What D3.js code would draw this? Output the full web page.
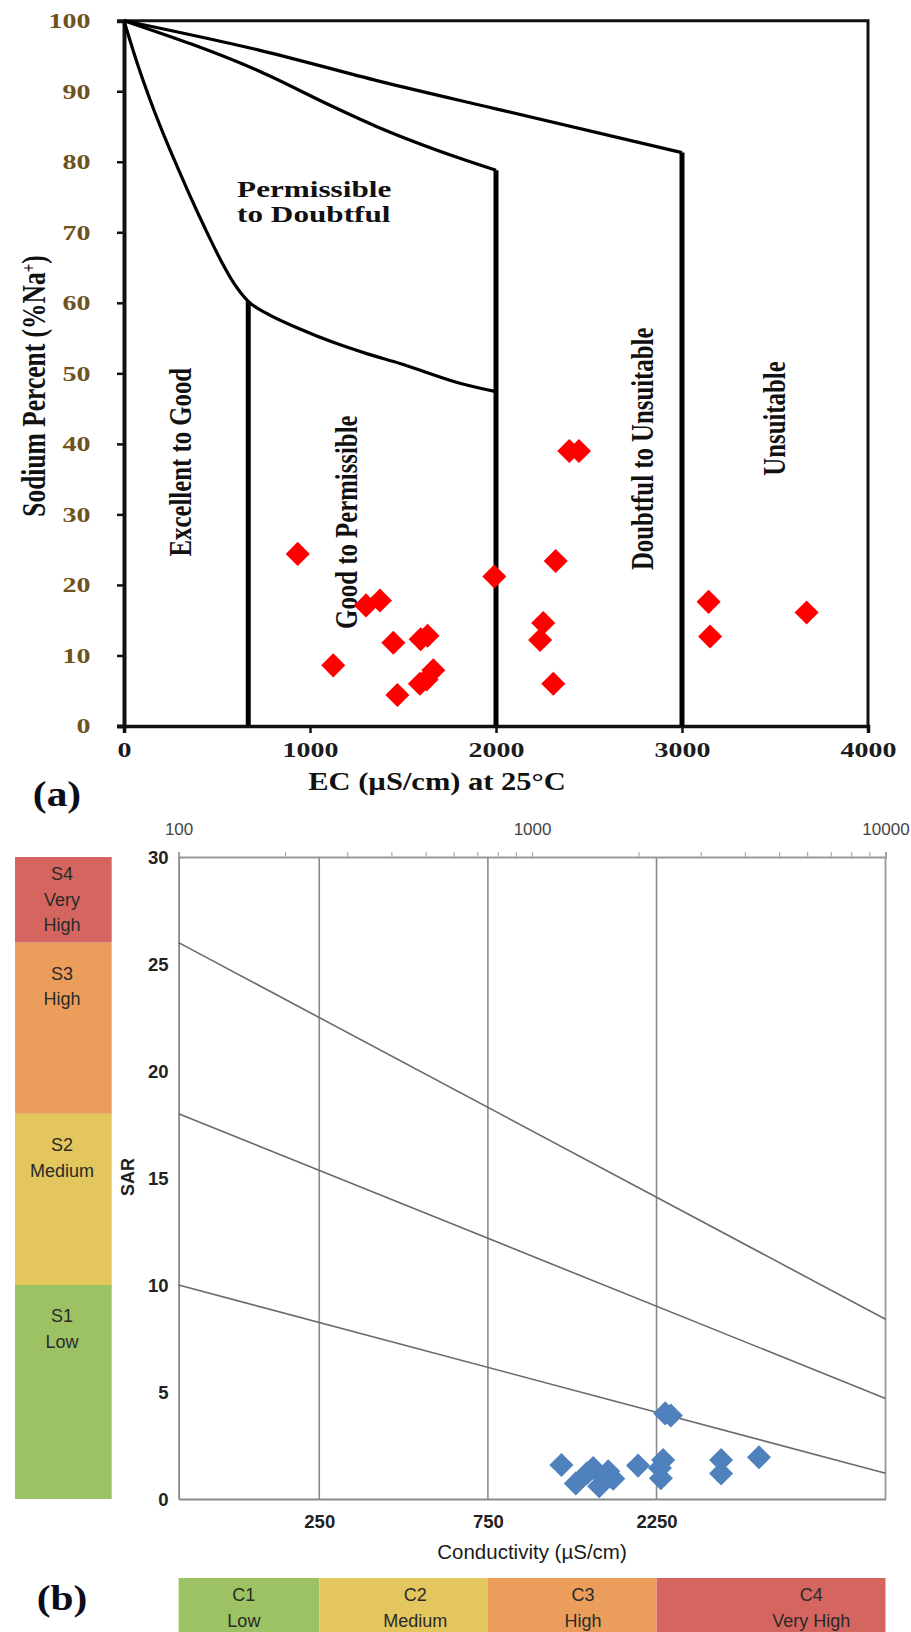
<!DOCTYPE html>
<html><head><meta charset="utf-8">
<script src="https://cdn.jsdelivr.net/npm/d3@7"></script>
<style>body{margin:0;background:#fff}svg{display:block}</style>
</head><body>
<script>
// ===== (a) Wilcox diagram data =====
const ecTicks = [0, 1000, 2000, 3000, 4000];
const naTicks = [0, 10, 20, 30, 40, 50, 60, 70, 80, 90, 100];
const sampleEC = [934, 1125, 1301, 1376, 1448, 1470, 1595, 1632, 1591, 1627, 1663, 1991, 2394, 2446, 2321, 2254, 2237, 2308, 3143, 3151, 3670];
const sampleNa = [24.4, 8.6, 17.1, 17.8, 11.8, 4.4, 12.3, 12.8, 6.0, 6.6, 7.9, 21.2, 39.0, 39.0, 23.4, 14.6, 12.2, 6.0, 17.6, 12.7, 16.1];
// boundary curves
const curve1EC = [0, 77, 140, 211, 283, 346, 435, 525, 588, 668, 767, 946, 1125, 1305, 1484, 1806, 2000];
const curve1Na = [100, 93.5, 88.8, 84.0, 79.5, 75.7, 70.6, 65.8, 62.9, 60.2, 58.5, 56.3, 54.4, 52.8, 51.4, 48.6, 47.4];
const curve2EC = [0, 731, 1125, 1376, 1806, 2000];
const curve2Na = [100, 92.8, 87.8, 84.8, 80.5, 78.8];
const curve3EC = [0, 731, 1376, 2000, 3000];
const curve3Na = [100, 95.8, 91.4, 87.5, 81.3];
const boundaryEC = [668, 2000, 3000];
const boundaryTop = [60.2, 78.8, 81.3];
const zoneNames = ["Excellent to Good", "Good to Permissible", "Doubtful to Unsuitable", "Unsuitable"];
const zoneEC = [301, 1194, 2785, 3493];
const zoneNa = [37.4, 28.9, 39.3, 43.6];

// ===== (b) USSL / Richards diagram data =====
const condTopTicks = [100, 200, 300, 400, 500, 600, 700, 800, 900, 1000, 2000, 3000, 4000, 5000, 6000, 7000, 8000, 9000, 10000];
const condTopLabels = [100, 1000, 10000];
const condClassBreaks = [100, 250, 750, 2250, 10000];
const sarTicks = [0, 5, 10, 15, 20, 25, 30];
const sarLineLeft = [10, 18, 26];     // SAR at 100 µS/cm
const sarLineRight = [1.2, 4.7, 8.4]; // SAR at 10000 µS/cm
const sarBands = [0, 10, 18, 26, 30];
const sNames = [["S1", "Low"], ["S2", "Medium"], ["S3", "High"], ["S4", "Very", "High"]];
const cNames = [["C1", "Low"], ["C2", "Medium"], ["C3", "High"], ["C4", "Very High"]];
const cLabelAt = [153, 467, 1393, 6170];
const sampleCond = [2380, 2470, 1211, 1330, 1430, 1489, 1549, 1600, 1643, 1671, 1697, 1995, 2349, 2315, 2300, 3427, 3427, 4385];
const sampleSAR = [4.0, 3.9, 1.59, 0.73, 1.2, 1.45, 0.6, 1.0, 1.3, 1.04, 0.95, 1.56, 1.82, 0.97, 1.45, 1.82, 1.19, 1.95];

const W = 911, H = 1632;
const svg = d3.select("body").append("svg").attr("width", W).attr("height", H)
  .style("background", "#fff");

// ---------- (a) ----------
const serif = "'Liberation Serif','Times New Roman',serif";
const SX = 1.3; // horizontal stretch of the original figure text
const x = d3.scaleLinear().domain([0, 4000]).range([124, 868]);
const y = d3.scaleLinear().domain([0, 100]).range([726, 20.7]);
const ga = svg.append("g");

function stretchedText(g, px, py, txt, o) {
  const t = g.append("g")
    .attr("transform", `translate(${px},${py}) scale(${o.sx || SX},1)` + (o.rot ? ` rotate(${o.rot})` : ""))
    .append("text")
    .attr("text-anchor", o.anchor || "middle")
    .attr("dy", o.dy || 0)
    .style("font-family", o.family || serif)
    .style("font-weight", o.weight || "bold")
    .style("font-size", (o.size || 24) + "px")
    .attr("fill", o.fill || "#111");
  t.text(txt);
  return t;
}

// frame top & right
ga.append("path").attr("d", `M${x(0)},${y(100)}H${x(4000)}V${y(0)}`)
  .attr("fill", "none").attr("stroke", "#111").attr("stroke-width", 3);

// axes
const yAxA = d3.axisLeft(y).tickValues(naTicks).tickSize(7).tickPadding(17);
const gy = ga.append("g").attr("transform", `translate(${x(0)},0)`).call(yAxA);
gy.select(".domain").attr("stroke", "#111").attr("stroke-width", 4);
gy.selectAll(".tick line").attr("stroke", "#111").attr("stroke-width", 2.5);
gy.selectAll(".tick text").attr("transform", "scale(1.4,1)").attr("dy", "0.34em")
  .style("font-family", serif).style("font-weight", "bold").style("font-size", "20px").attr("fill", "#6e5220");

const xAxA = d3.axisBottom(x).tickValues(ecTicks).tickSize(7).tickPadding(10).tickFormat(d3.format("d"));
const gx = ga.append("g").attr("transform", `translate(0,${y(0)})`).call(xAxA);
gx.select(".domain").attr("stroke", "#111").attr("stroke-width", 3.5);
gx.selectAll(".tick line").attr("stroke", "#111").attr("stroke-width", 2.5);
gx.selectAll(".tick text").attr("transform", "scale(1.4,1)").attr("dy", "0.71em")
  .style("font-family", serif).style("font-weight", "bold").style("font-size", "20px").attr("fill", "#1b1b22");

// boundary curves
const lineA = d3.line().x(d => x(d[0])).y(d => y(d[1])).curve(d3.curveMonotoneX);
[[curve1EC, curve1Na], [curve2EC, curve2Na], [curve3EC, curve3Na]].forEach(([ec, na]) => {
  ga.append("path").datum(ec.map((v, i) => [v, na[i]])).attr("d", lineA)
    .attr("fill", "none").attr("stroke", "#000").attr("stroke-width", 3.2).attr("stroke-linejoin", "round");
});
boundaryEC.forEach((ec, i) => {
  ga.append("line").attr("x1", x(ec)).attr("x2", x(ec)).attr("y1", y(boundaryTop[i])).attr("y2", y(0))
    .attr("stroke", "#000").attr("stroke-width", 5);
});

// zone labels
zoneNames.forEach((n, i) => {
  stretchedText(ga, x(zoneEC[i]), y(zoneNa[i]), n, { rot: -90, dy: "0.35em", size: 24.8 });
});
stretchedText(ga, x(608), y(75.0), "Permissible", { anchor: "start", size: 24 });
stretchedText(ga, x(608), y(71.4), "to Doubtful", { anchor: "start", size: 24 });

// axis titles
const yt = stretchedText(ga, 33, 386, "", { rot: -90, dy: "0.35em", size: 25.5 });
yt.append("tspan").text("Sodium Percent (%Na");
yt.append("tspan").text("+").attr("baseline-shift", "super").style("font-size", "15px");
yt.append("tspan").text(")");
stretchedText(ga, 437, 790, "EC (\u00B5S/cm) at 25\u00B0C", { size: 25, sx: 1.22 });
stretchedText(ga, 57, 806, "(a)", { size: 36, sx: 1.15, fill: "#0d0d1a" });

// samples
const diamond = d3.symbol().type(d3.symbolSquare).size(290);
ga.append("g").selectAll("path").data(sampleEC.map((v, i) => [v, sampleNa[i]])).join("path")
  .attr("d", diamond)
  .attr("transform", d => `translate(${x(d[0])},${y(d[1])}) rotate(45)`)
  .attr("fill", "#ff0000");

// ---------- (b) ----------
const sans = "'Liberation Sans',Arial,sans-serif";
const xb = d3.scaleLog().domain([100, 10000]).range([178.6, 885.5]);
const yb = d3.scaleLinear().domain([0, 30]).range([1499, 857]);
const gb = svg.append("g");
const sColors = ["#9dc264", "#e3c75e", "#eb9e5c", "#d4665f"];

// S class bar
sNames.forEach((lines, i) => {
  const top = yb(sarBands[i + 1]), bot = yb(sarBands[i]);
  gb.append("rect").attr("x", 15).attr("width", 96.7).attr("y", top).attr("height", bot - top)
    .attr("fill", sColors[i]);
  const off = lines.length === 3 ? 17 : 31;
  lines.forEach((l, j) => {
    gb.append("text").attr("x", 62).attr("y", top + off + j * 25.5).attr("dy", "0.35em")
      .attr("text-anchor", "middle").style("font-family", sans).style("font-size", "18px")
      .attr("fill", "#2a2a2a").text(l);
  });
});

// C class bar
cNames.forEach((lines, i) => {
  const x0 = xb(condClassBreaks[i]), x1 = xb(condClassBreaks[i + 1]);
  gb.append("rect").attr("x", x0).attr("width", x1 - x0).attr("y", 1578).attr("height", 60)
    .attr("fill", sColors[i]);
  lines.forEach((l, j) => {
    gb.append("text").attr("x", xb(cLabelAt[i])).attr("y", 1595 + j * 25.7).attr("dy", "0.35em")
      .attr("text-anchor", "middle").style("font-family", sans).style("font-size", "18px")
      .attr("fill", "#2a2a2a").text(l);
  });
});

// grid verticals at class breaks
condClassBreaks.slice(1, 4).forEach(c => {
  gb.append("line").attr("x1", xb(c)).attr("x2", xb(c)).attr("y1", yb(30)).attr("y2", yb(0))
    .attr("stroke", "#8a8a8a").attr("stroke-width", 1.6);
});
// right frame
gb.append("line").attr("x1", xb(10000)).attr("x2", xb(10000)).attr("y1", yb(30)).attr("y2", yb(0))
  .attr("stroke", "#9a9a9a").attr("stroke-width", 1.8);

// top log axis
const topAx = d3.axisTop(xb).tickValues(condTopTicks).tickSize(5)
  .tickFormat(d => condTopLabels.includes(d) ? String(d) : "");
const gtop = gb.append("g").attr("transform", `translate(0,${yb(30)})`).call(topAx);
gtop.select(".domain").attr("stroke", "#9a9a9a").attr("stroke-width", 2);
gtop.selectAll(".tick line").attr("stroke", "#aaa").attr("stroke-width", 1.2);
gtop.selectAll(".tick text").attr("y", -28).attr("dy", "0.35em")
  .style("font-family", sans).style("font-size", "17px").attr("fill", "#444");

// left axis
const leftAx = d3.axisLeft(yb).tickValues(sarTicks).tickSize(0).tickPadding(10);
const gl = gb.append("g").attr("transform", `translate(${xb(100)},0)`).call(leftAx);
gl.select(".domain").attr("stroke", "#8a8a8a").attr("stroke-width", 1.8);
gl.selectAll(".tick text").attr("dy", "0.35em")
  .style("font-family", sans).style("font-weight", "bold").style("font-size", "18.5px").attr("fill", "#222");

// bottom axis
const botAx = d3.axisBottom(xb).tickValues(condClassBreaks.slice(1, 4)).tickSize(0).tickPadding(16)
  .tickFormat(d => String(d));
const gbt = gb.append("g").attr("transform", `translate(0,${yb(0)})`).call(botAx);
gbt.select(".domain").attr("stroke", "#8a8a8a").attr("stroke-width", 2.2);
gbt.selectAll(".tick text").attr("dy", "0.35em").attr("y", 23)
  .style("font-family", sans).style("font-weight", "bold").style("font-size", "18.5px").attr("fill", "#222");

// SAR hazard lines
sarLineLeft.forEach((v, i) => {
  gb.append("line").attr("x1", xb(100)).attr("y1", yb(v)).attr("x2", xb(10000)).attr("y2", yb(sarLineRight[i]))
    .attr("stroke", "#6a6a6a").attr("stroke-width", 1.6);
});

// axis titles
gb.append("text").attr("transform", `translate(128,1177) rotate(-90)`).attr("text-anchor", "middle")
  .attr("dy", "0.35em").style("font-family", sans).style("font-weight", "bold").style("font-size", "18px")
  .attr("fill", "#222").text("SAR");
gb.append("text").attr("x", 532).attr("y", 1552).attr("dy", "0.35em").attr("text-anchor", "middle")
  .style("font-family", sans).style("font-size", "20.5px").attr("fill", "#1a1a1a").text("Conductivity (\u00B5S/cm)");
stretchedText(gb, 62, 1610, "(b)", { size: 36, sx: 1.15, fill: "#0d0d1a" });

// samples
gb.append("g").selectAll("path").data(sampleCond.map((v, i) => [v, sampleSAR[i]])).join("path")
  .attr("d", diamond)
  .attr("transform", d => `translate(${xb(d[0])},${yb(d[1])}) rotate(45)`)
  .attr("fill", "#4f81bd");
</script>
</body></html>
